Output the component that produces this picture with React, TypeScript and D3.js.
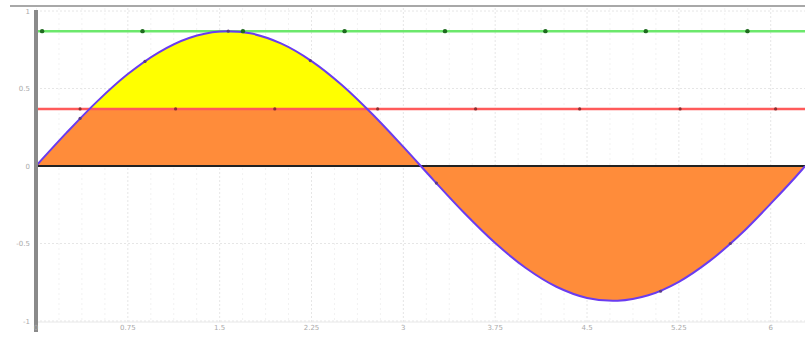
import React from "react";
import * as d3 from "d3";

const xs = [0, 0.25, 0.5, 0.75, 1.0, 1.25, 1.5, 1.75, 2.0, 2.25, 2.5, 2.75, 3.0, 3.25, 3.5, 3.75, 4.0, 4.25, 4.5, 4.75, 5.0, 5.25, 5.5, 5.75, 6.0, 6.25, 6.28];
const ys = [0, 0.215, 0.417, 0.593, 0.732, 0.826, 0.868, 0.856, 0.791, 0.677, 0.521, 0.332, 0.123, -0.094, -0.305, -0.497, -0.658, -0.779, -0.851, -0.869, -0.834, -0.747, -0.614, -0.444, -0.243, -0.029, 0];
const redLevel = 0.368;
const greenLevel = 0.87;
const xTicks = [0, 0.75, 1.5, 2.25, 3, 3.75, 4.5, 5.25, 6];
const xTickLabels = ["0", "0.75", "1.5", "2.25", "3", "3.75", "4.5", "5.25", "6"];
const yTicks = [-1, -0.5, 0, 0.5, 1];
const yTickLabels = ["-1", "-0.5", "0", "0.5", "1"];
const greenDotsX = [0.05, 0.87, 1.69, 2.52, 3.34, 4.16, 4.98, 5.81];
const redDotsX = [0.36, 1.14, 1.95, 2.79, 3.59, 4.44, 5.26, 6.04];
const curveDotsX = [0.36, 0.89, 1.57, 2.24, 3.27, 5.1, 5.67];
const curveDotsY = [0.307, 0.675, 0.87, 0.68, -0.11, -0.808, -0.5];

export default function App() {
  const W = 805, H = 337;
  const x = d3.scaleLinear().domain([0, 6.28]).range([36, 805]);
  const y = d3.scaleLinear().domain([-1, 1]).range([321, 11]);
  const data = xs.map((v, i) => ({ x: v, y: ys[i] }));
  const curve = d3.curveCatmullRom;

  const line = d3.line<{ x: number; y: number }>().x(d => x(d.x)).y(d => y(d.y)).curve(curve);
  const area = d3.area<{ x: number; y: number }>()
    .x(d => x(d.x)).y0(y(0)).y1(d => y(d.y)).curve(curve);

  const minorX: number[] = [];
  for (let i = 0; i < xTicks.length - 1; i++) {
    for (let k = 1; k < 4; k++) minorX.push(xTicks[i] + (k * 0.75) / 4);
  }

  return (
    <svg width={W} height={H} style={{ position: "absolute", left: 0, top: 0, background: "#fff" }}>
      <defs>
        <clipPath id="plot"><rect x={36} y={8} width={W - 36} height={316} /></clipPath>
        <clipPath id="aboveRed"><rect x={36} y={0} width={W - 36} height={y(redLevel)} /></clipPath>
      </defs>
      <g clipPath="url(#plot)">
        {minorX.map((t, i) => (
          <line key={"mx" + i} x1={x(t)} x2={x(t)} y1={8} y2={322} stroke="#f2f2f2" strokeDasharray="2,3" />
        ))}
        {xTicks.map((t, i) => (
          <line key={"gx" + i} x1={x(t)} x2={x(t)} y1={8} y2={322} stroke="#e6e6e6" strokeDasharray="2,2" />
        ))}
        {yTicks.map((t, i) => (
          <line key={"gy" + i} x1={36} x2={W} y1={y(t)} y2={y(t)} stroke="#e6e6e6" strokeDasharray="2,2" />
        ))}
        <path d={area(data) || ""} fill="#ff8c3a" />
        <path d={area(data) || ""} fill="#ffff00" clipPath="url(#aboveRed)" />
        <line x1={36} x2={W} y1={y(redLevel)} y2={y(redLevel)} stroke="#ff5a5a" strokeWidth={2.5} />
        <line x1={36} x2={W} y1={y(greenLevel)} y2={y(greenLevel)} stroke="#6ce86c" strokeWidth={2.5} />
        <line x1={36} x2={W} y1={y(0)} y2={y(0)} stroke="#222" strokeWidth={2} />
        <path d={line(data) || ""} fill="none" stroke="#6a3cf0" strokeWidth={2} />
        {greenDotsX.map((t, i) => (
          <circle key={"g" + i} cx={x(t)} cy={y(greenLevel)} r={2.2} fill="#1f6a1f" />
        ))}
        {redDotsX.map((t, i) => (
          <circle key={"r" + i} cx={x(t)} cy={y(redLevel)} r={1.6} fill="#8a3030" />
        ))}
        {curveDotsX.map((t, i) => (
          <circle key={"c" + i} cx={x(t)} cy={y(curveDotsY[i])} r={1.6} fill="#5a3a8a" />
        ))}
      </g>
      <line x1={10} x2={W} y1={6} y2={6} stroke="#a8a8a8" strokeWidth={2} />
      <line x1={36} x2={W} y1={322} y2={322} stroke="#e8e8e8" strokeWidth={1} />
      <line x1={36} x2={36} y1={10} y2={332} stroke="#8a8a8a" strokeWidth={4} />
      {yTicks.map((t, i) => (
        <text key={"yl" + i} x={30} y={y(t) + 2.5} textAnchor="end" fontSize={7} fill="#aaa" fontFamily="DejaVu Sans, sans-serif">
          {yTickLabels[i]}
        </text>
      ))}
      {xTicks.map((t, i) => (
        <text key={"xl" + i} x={x(t)} y={330} textAnchor="middle" fontSize={7} fill="#aaa" fontFamily="DejaVu Sans, sans-serif">
          {xTickLabels[i]}
        </text>
      ))}
    </svg>
  );
}
